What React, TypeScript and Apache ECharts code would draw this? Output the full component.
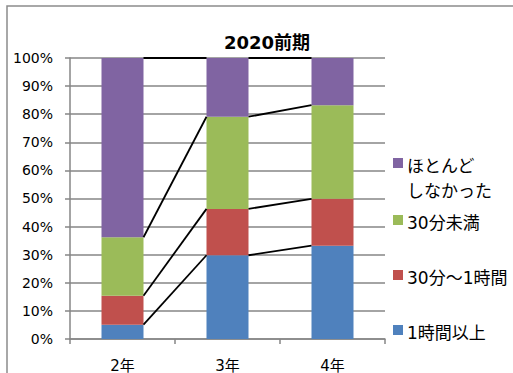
import React, { useEffect, useRef } from "react";
import * as echarts from "echarts";

const categories = ["2年", "3年", "4年"];
const seriesNames = ["1時間以上", "30分～1時間", "30分未満", "ほとんどしなかった"];
const legendLabels = ["1時間以上", "30分～1時間", "30分未満", "ほとんど\nしなかった"];
const over1h = [5.1, 29.8, 33.2];
const min30to1h = [10.3, 16.5, 16.7];
const under30 = [20.8, 32.8, 33.3];
const hardly = [63.8, 20.9, 16.8];
const yTicks = [0, 10, 20, 30, 40, 50, 60, 70, 80, 90, 100];
const colors = ["#4F81BD", "#C0504D", "#9BBB59", "#8064A2"];

const FONT = "'DejaVu Sans', 'Noto Sans CJK JP', sans-serif";

export default function App() {
  const ref = useRef<HTMLDivElement>(null);
  useEffect(() => {
    if (!ref.current) return;
    const chart = echarts.init(ref.current, undefined, { renderer: "svg" });
    const all = [over1h, min30to1h, under30, hardly];
    const cum: number[][] = categories.map((_, i) => {
      let s = 0;
      return all.map((arr) => (s += arr[i]));
    });
    const connData: number[][] = [];
    for (let i = 0; i < categories.length - 1; i++) {
      for (let l = 0; l < all.length; l++) {
        connData.push([i, cum[i][l], cum[i + 1][l]]);
      }
    }
    const legendY = [330, 275, 220, 163];
    const graphics: any[] = [
      {
        type: "rect",
        shape: { x: 7, y: 6, width: 700, height: 500 },
        style: { fill: "none", stroke: "#8c8c8c", lineWidth: 1.5 },
        silent: true,
      },
    ];
    legendLabels.forEach((lab, k) => {
      graphics.push({
        type: "rect",
        shape: { x: 393, y: legendY[k] - 5, width: 10, height: 10 },
        style: { fill: colors[k] },
      });
      graphics.push({
        type: "text",
        x: 407,
        y: legendY[k] - 10,
        style: {
          text: lab,
          fill: "#000",
          font: `17px ${FONT}`,
          lineHeight: 25,
          textVerticalAlign: "top",
        },
      });
    });
    chart.setOption({
      animation: false,
      title: {
        text: "2020前期",
        left: 262,
        top: 28,
        textAlign: "center",
        textStyle: { fontSize: 18, fontWeight: "bold", color: "#000", fontFamily: FONT },
      },
      grid: { left: 70, right: 128, top: 58, bottom: 33, containLabel: false },
      xAxis: {
        type: "category",
        data: categories,
        axisLine: { lineStyle: { color: "#868686", width: 1.5 } },
        axisTick: { show: true, length: 5, lineStyle: { color: "#868686", width: 1.5 } },
        axisLabel: { color: "#000", fontSize: 15, fontFamily: FONT, margin: 19 },
      },
      yAxis: {
        type: "value",
        min: 0,
        max: 100,
        interval: 10,
        axisLine: { show: true, lineStyle: { color: "#868686", width: 1.5 } },
        axisTick: { show: true, length: 5, lineStyle: { color: "#868686", width: 1.5 } },
        splitLine: { show: true, lineStyle: { color: "#868686", width: 1.5 } },
        axisLabel: {
          color: "#000",
          fontSize: 14,
          fontFamily: FONT,
          margin: 17,
          formatter: (v: number) => (yTicks.includes(v) ? `${v}%` : ""),
        },
      },
      series: [
        ...all.map((arr, k) => ({
          name: seriesNames[k],
          type: "bar",
          stack: "total",
          barWidth: "40%",
          data: arr,
          itemStyle: { color: colors[k] },
          z: 3,
        })),
        {
          type: "custom",
          data: connData,
          encode: { x: 0, y: 1 },
          z: 4,
          renderItem: (params: any, api: any) => {
            const i = api.value(0);
            const v1 = api.value(1);
            const v2 = api.value(2);
            const bw = api.size([1, 0])[0] * 0.4;
            const p1 = api.coord([i, v1]);
            const p2 = api.coord([i + 1, v2]);
            return {
              type: "line",
              shape: { x1: p1[0] + bw / 2, y1: p1[1], x2: p2[0] - bw / 2, y2: p2[1] },
              style: { stroke: "#000", lineWidth: 1.8 },
            };
          },
        },
      ],
      graphic: graphics,
    });
    return () => chart.dispose();
  }, []);
  return (
    <div
      ref={ref}
      style={{ position: "fixed", left: 0, top: 0, width: 513, height: 373, background: "#fff" }}
    />
  );
}
